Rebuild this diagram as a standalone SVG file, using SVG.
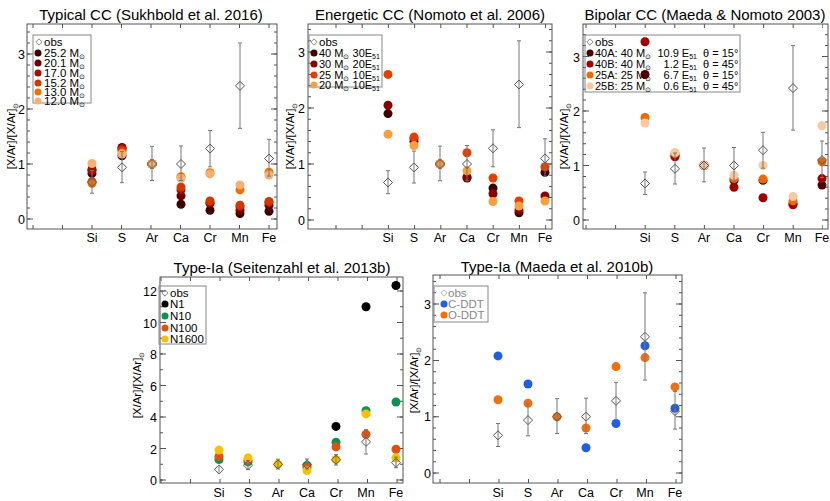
<svg xmlns="http://www.w3.org/2000/svg" width="830" height="501" viewBox="0 0 830 501">
<style>
text{font-family:"Liberation Sans",Arial,sans-serif;fill:#000}
.t{font-size:15px;text-anchor:middle}
.a{font-size:12.5px;text-anchor:end}
.x{font-size:12.5px;text-anchor:middle}
.l{font-size:11.5px}
.l3{font-size:11px}
.yl{font-size:11.5px;text-anchor:middle}
.s{font-size:7px}
.fr{fill:none;stroke:#555;stroke-width:1}
.tk{stroke:#555;fill:none}
.eb{stroke:#777;stroke-width:1;fill:none}
.ob{fill:#fff;fill-opacity:0;stroke:#555;stroke-width:1}
.lg{fill:none;stroke:#888}
</style>
<defs>
<path id="dm" d="M0,-4.5L4.5,0L0,4.5L-4.5,0Z"/>
</defs>

<!-- Panel 1 -->
<g id="p1">
<text class="t" x="151" y="20">Typical CC (Sukhbold et al. 2016)</text>
<rect class="fr" x="27" y="24" width="250" height="205"/>
<g class="tk">
<line x1="28.5" y1="219.5" x2="28.5" y2="24" stroke-width="3" stroke-dasharray="1 10"/>
<line x1="30" y1="219.5" x2="30" y2="24" stroke-width="6" stroke-dasharray="1 54"/>
<line x1="275.5" y1="219.5" x2="275.5" y2="24" stroke-width="3" stroke-dasharray="1 10"/>
<line x1="274" y1="219.5" x2="274" y2="24" stroke-width="6" stroke-dasharray="1 54"/>
<line x1="32.5" y1="227" x2="272" y2="227" stroke-width="4" stroke-dasharray="1 28.5"/>
<line x1="32.5" y1="26" x2="272" y2="26" stroke-width="4" stroke-dasharray="1 28.5"/>
</g>
<text class="a" x="25" y="224">0</text><text class="a" x="25" y="169">1</text><text class="a" x="25" y="114">2</text><text class="a" x="25" y="59">3</text>
<text class="yl" transform="translate(15,136) rotate(-90)">[X/Ar]/[X/Ar]<tspan class="s" dy="3">⊙</tspan></text>
<g class="x"><text x="92" y="242">Si</text><text x="122" y="242">S</text><text x="152" y="242">Ar</text><text x="181" y="242">Ca</text><text x="210" y="242">Cr</text><text x="240" y="242">Mn</text><text x="269" y="242">Fe</text></g>
<rect class="lg" x="33" y="35" width="58" height="68"/>
<use href="#dm" class="ob" transform="translate(39,42) scale(0.7)"/>
<text class="l" x="44" y="46">obs</text>
<circle cx="38" cy="53" r="3.5" fill="#3d0000"/><text class="l" x="44" y="57">25.2 M<tspan class="s" dy="2">⊙</tspan></text>
<circle cx="38" cy="63" r="3.5" fill="#6b0000"/><text class="l" x="44" y="67">20.1 M<tspan class="s" dy="2">⊙</tspan></text>
<circle cx="38" cy="73" r="3.5" fill="#a01000"/><text class="l" x="44" y="77">17.0 M<tspan class="s" dy="2">⊙</tspan></text>
<circle cx="38" cy="83" r="3.5" fill="#d03800"/><text class="l" x="44" y="87">15.2 M<tspan class="s" dy="2">⊙</tspan></text>
<circle cx="38" cy="92" r="3.5" fill="#f07000"/><text class="l" x="44" y="96">13.0 M<tspan class="s" dy="2">⊙</tspan></text>
<circle cx="38" cy="101" r="3.5" fill="#f8b070"/><text class="l" x="44" y="105">12.0 M<tspan class="s" dy="2">⊙</tspan></text>
<g fill="#3d0000"><circle cx="92" cy="173.4" r="4.5"/><circle cx="122" cy="155.8" r="4.5"/><circle cx="152" cy="164" r="4.5"/><circle cx="181" cy="204.2" r="4.5"/><circle cx="210" cy="210.2" r="4.5"/><circle cx="240" cy="213.5" r="4.5"/><circle cx="269" cy="211.3" r="4.5"/></g>
<g fill="#6b0000"><circle cx="92" cy="169.5" r="4.5"/><circle cx="122" cy="147.5" r="4.5"/><circle cx="152" cy="164" r="4.5"/><circle cx="181" cy="195.9" r="4.5"/><circle cx="210" cy="203.6" r="4.5"/><circle cx="240" cy="210.2" r="4.5"/><circle cx="269" cy="205.3" r="4.5"/></g>
<g fill="#a01000"><circle cx="92" cy="170.6" r="4.5"/><circle cx="122" cy="148.6" r="4.5"/><circle cx="152" cy="164" r="4.5"/><circle cx="181" cy="189.9" r="4.5"/><circle cx="210" cy="202.5" r="4.5"/><circle cx="240" cy="206.9" r="4.5"/><circle cx="269" cy="202.5" r="4.5"/></g>
<g fill="#d03800"><circle cx="92" cy="181.6" r="4.5"/><circle cx="122" cy="150.3" r="4.5"/><circle cx="152" cy="164" r="4.5"/><circle cx="181" cy="187.1" r="4.5"/><circle cx="210" cy="200.9" r="4.5"/><circle cx="240" cy="205.3" r="4.5"/><circle cx="269" cy="201.4" r="4.5"/></g>
<g fill="#f07000"><circle cx="92" cy="183.3" r="4.5"/><circle cx="122" cy="153" r="4.5"/><circle cx="152" cy="164" r="4.5"/><circle cx="181" cy="176.7" r="4.5"/><circle cx="210" cy="172.8" r="4.5"/><circle cx="240" cy="189.9" r="4.5"/><circle cx="269" cy="172.3" r="4.5"/></g>
<g fill="#f8b070"><circle cx="92" cy="163.5" r="4.5"/><circle cx="122" cy="154.1" r="4.5"/><circle cx="152" cy="164" r="4.5"/><circle cx="181" cy="178.3" r="4.5"/><circle cx="210" cy="173.9" r="4.5"/><circle cx="240" cy="184.9" r="4.5"/><circle cx="269" cy="175" r="4.5"/></g>
<path class="eb" d="M92 193.2V170.6M90 193.2h4M90 170.6h4M122 182.7V151.4M120 182.7h4M120 151.4h4M152 180.5V146.4M150 180.5h4M150 146.4h4M181 180.5V145.9M179 180.5h4M179 145.9h4M210 166.8V130.5M208 166.8h4M208 130.5h4M240 128.3V43M238 128.3h4M238 43h4M269 176.1V139.3M267 176.1h4M267 139.3h4"/>
<g class="ob"><use href="#dm" x="92" y="182.2"/><use href="#dm" x="122" y="167.3"/><use href="#dm" x="152" y="164"/><use href="#dm" x="181" y="164"/><use href="#dm" x="210" y="148.6"/><use href="#dm" x="240" y="85.9"/><use href="#dm" x="269" y="158.5"/></g>
</g>

<!-- Panel 2 -->
<g id="p2">
<text class="t" x="430" y="20">Energetic CC (Nomoto et al. 2006)</text>
<rect class="fr" x="308" y="24" width="244" height="205"/>
<g class="tk">
<line x1="309.5" y1="220.5" x2="309.5" y2="24" stroke-width="3" stroke-dasharray="1 10.2"/>
<line x1="311" y1="220.5" x2="311" y2="24" stroke-width="6" stroke-dasharray="1 55"/>
<line x1="550.5" y1="220.5" x2="550.5" y2="24" stroke-width="3" stroke-dasharray="1 10.2"/>
<line x1="549" y1="220.5" x2="549" y2="24" stroke-width="6" stroke-dasharray="1 55"/>
<line x1="335.5" y1="227" x2="547" y2="227" stroke-width="4" stroke-dasharray="1 25.2"/>
<line x1="335.5" y1="26" x2="547" y2="26" stroke-width="4" stroke-dasharray="1 25.2"/>
</g>
<text class="a" x="305" y="225">0</text><text class="a" x="305" y="169">1</text><text class="a" x="305" y="113">2</text><text class="a" x="305" y="57">3</text>
<text class="yl" transform="translate(294,136) rotate(-90)">[X/Ar]/[X/Ar]<tspan class="s" dy="3">⊙</tspan></text>
<g class="x"><text x="388" y="242">Si</text><text x="414" y="242">S</text><text x="440" y="242">Ar</text><text x="467" y="242">Ca</text><text x="493" y="242">Cr</text><text x="519" y="242">Mn</text><text x="545" y="242">Fe</text></g>
<rect class="lg" x="309" y="35" width="73" height="52"/>
<use href="#dm" class="ob" transform="translate(314,42) scale(0.7)"/>
<text class="l" x="319" y="46">obs</text>
<circle cx="314" cy="53" r="3.5" fill="#3d0000"/><text class="l3" x="319" y="57">40 M<tspan class="s" dy="2">⊙</tspan><tspan dy="-2"> 30E</tspan><tspan class="s" dy="2">51</tspan></text>
<circle cx="314" cy="64" r="3.5" fill="#8b0000"/><text class="l3" x="319" y="68">30 M<tspan class="s" dy="2">⊙</tspan><tspan dy="-2"> 20E</tspan><tspan class="s" dy="2">51</tspan></text>
<circle cx="314" cy="75" r="3.5" fill="#e04000"/><text class="l3" x="319" y="79">25 M<tspan class="s" dy="2">⊙</tspan><tspan dy="-2"> 10E</tspan><tspan class="s" dy="2">51</tspan></text>
<circle cx="314" cy="85" r="3.5" fill="#f8a040"/><text class="l3" x="319" y="89">20 M<tspan class="s" dy="2">⊙</tspan><tspan dy="-2"> 10E</tspan><tspan class="s" dy="2">51</tspan></text>
<g fill="#3d0000"><circle cx="388" cy="113.6" r="4.5"/><circle cx="414" cy="141.6" r="4.5"/><circle cx="440" cy="164" r="4.5"/><circle cx="467" cy="178" r="4.5"/><circle cx="493" cy="188.1" r="4.5"/><circle cx="519" cy="212.7" r="4.5"/><circle cx="545" cy="172.4" r="4.5"/></g>
<g fill="#8b0000"><circle cx="388" cy="105.2" r="4.5"/><circle cx="414" cy="138.8" r="4.5"/><circle cx="440" cy="164" r="4.5"/><circle cx="467" cy="176.9" r="4.5"/><circle cx="493" cy="193.7" r="4.5"/><circle cx="519" cy="209.9" r="4.5"/><circle cx="545" cy="195.9" r="4.5"/></g>
<g fill="#e04000"><circle cx="388" cy="74.4" r="4.5"/><circle cx="414" cy="137.1" r="4.5"/><circle cx="440" cy="164" r="4.5"/><circle cx="467" cy="152.8" r="4.5"/><circle cx="493" cy="178" r="4.5"/><circle cx="519" cy="201" r="4.5"/><circle cx="545" cy="166.8" r="4.5"/></g>
<g fill="#f8a040"><circle cx="388" cy="134.3" r="4.5"/><circle cx="414" cy="145.5" r="4.5"/><circle cx="440" cy="164" r="4.5"/><circle cx="467" cy="170.7" r="4.5"/><circle cx="493" cy="201.5" r="4.5"/><circle cx="519" cy="206" r="4.5"/><circle cx="545" cy="201" r="4.5"/></g>
<path class="eb" d="M388 193.7V170.7M386 193.7h4M386 170.7h4M414 183V151.1M412 183h4M412 151.1h4M440 180.8V146.1M438 180.8h4M438 146.1h4M467 180.8V145.5M465 180.8h4M465 145.5h4M493 166.8V129.8M491 166.8h4M491 129.8h4M519 127.6V40.8M517 127.6h4M517 40.8h4M545 176.3V138.8M543 176.3h4M543 138.8h4"/>
<g class="ob"><use href="#dm" x="388" y="182.5"/><use href="#dm" x="414" y="167.4"/><use href="#dm" x="440" y="164"/><use href="#dm" x="467" y="164"/><use href="#dm" x="493" y="148.3"/><use href="#dm" x="519" y="84.5"/><use href="#dm" x="545" y="158.4"/></g>
</g>

<!-- Panel 3 -->
<g id="p3">
<text class="t" x="705" y="20">Bipolar CC (Maeda &amp; Nomoto 2003)</text>
<rect class="fr" x="583" y="24" width="245" height="205"/>
<g class="tk">
<line x1="584.5" y1="220.5" x2="584.5" y2="24" stroke-width="3" stroke-dasharray="1 9.9"/>
<line x1="586" y1="220.5" x2="586" y2="24" stroke-width="6" stroke-dasharray="1 53.5"/>
<line x1="826.5" y1="220.5" x2="826.5" y2="24" stroke-width="3" stroke-dasharray="1 9.9"/>
<line x1="825" y1="220.5" x2="825" y2="24" stroke-width="6" stroke-dasharray="1 53.5"/>
<line x1="585.5" y1="227" x2="823" y2="227" stroke-width="4" stroke-dasharray="1 28.6"/>
<line x1="585.5" y1="26" x2="823" y2="26" stroke-width="4" stroke-dasharray="1 28.6"/>
</g>
<text class="a" x="580" y="225">0</text><text class="a" x="580" y="171">1</text><text class="a" x="580" y="116">2</text><text class="a" x="580" y="62">3</text>
<text class="yl" transform="translate(568,136) rotate(-90)">[X/Ar]/[X/Ar]<tspan class="s" dy="3">⊙</tspan></text>
<g class="x"><text x="645" y="242">Si</text><text x="675" y="242">S</text><text x="704" y="242">Ar</text><text x="734" y="242">Ca</text><text x="763" y="242">Cr</text><text x="793" y="242">Mn</text><text x="822" y="242">Fe</text></g>
<rect class="lg" x="585" y="35" width="155" height="57"/>
<use href="#dm" class="ob" transform="translate(590,42) scale(0.7)"/>
<text class="l" x="595" y="46">obs</text>
<circle cx="590" cy="53" r="3.5" fill="#4a0000"/><text class="l3" x="595" y="57">40A: 40 M<tspan class="s" dy="2">⊙</tspan></text><text class="l3" x="697" y="57" text-anchor="end">10.9 E<tspan class="s" dy="2">51</tspan></text><text class="l3" x="703" y="57">θ = 15°</text>
<circle cx="590" cy="64" r="3.5" fill="#a00000"/><text class="l3" x="595" y="68">40B: 40 M<tspan class="s" dy="2">⊙</tspan></text><text class="l3" x="697" y="68" text-anchor="end">1.2 E<tspan class="s" dy="2">51</tspan></text><text class="l3" x="703" y="68">θ = 45°</text>
<circle cx="590" cy="75" r="3.5" fill="#f06800"/><text class="l3" x="595" y="79">25A: 25 M<tspan class="s" dy="2">⊙</tspan></text><text class="l3" x="697" y="79" text-anchor="end">6.7 E<tspan class="s" dy="2">51</tspan></text><text class="l3" x="703" y="79">θ = 15°</text>
<circle cx="590" cy="86" r="3.5" fill="#f8c8a0"/><text class="l3" x="595" y="90">25B: 25 M<tspan class="s" dy="2">⊙</tspan></text><text class="l3" x="697" y="90" text-anchor="end">0.6 E<tspan class="s" dy="2">51</tspan></text><text class="l3" x="703" y="90">θ = 45°</text>
<g fill="#4a0000"><circle cx="645" cy="74.5" r="4.5"/><circle cx="675" cy="155.7" r="4.5"/><circle cx="704" cy="165.5" r="4.5"/><circle cx="734" cy="180.2" r="4.5"/><circle cx="763" cy="180.2" r="4.5"/><circle cx="793" cy="203.7" r="4.5"/><circle cx="822" cy="185.1" r="4.5"/></g>
<g fill="#a00000"><circle cx="645" cy="41.8" r="4.5"/><circle cx="675" cy="156.8" r="4.5"/><circle cx="704" cy="165.5" r="4.5"/><circle cx="734" cy="187.3" r="4.5"/><circle cx="763" cy="197.7" r="4.5"/><circle cx="793" cy="204.7" r="4.5"/><circle cx="822" cy="178.6" r="4.5"/></g>
<g fill="#f06800"><circle cx="645" cy="117.5" r="4.5"/><circle cx="675" cy="153.5" r="4.5"/><circle cx="704" cy="165.5" r="4.5"/><circle cx="734" cy="178.6" r="4.5"/><circle cx="763" cy="179.1" r="4.5"/><circle cx="793" cy="200.9" r="4.5"/><circle cx="822" cy="161.7" r="4.5"/></g>
<g fill="#f8c8a0"><circle cx="645" cy="123" r="4.5"/><circle cx="675" cy="152.4" r="4.5"/><circle cx="704" cy="165.5" r="4.5"/><circle cx="734" cy="175.3" r="4.5"/><circle cx="763" cy="165.5" r="4.5"/><circle cx="793" cy="196.6" r="4.5"/><circle cx="822" cy="125.7" r="4.5"/></g>
<path class="eb" d="M645 194.4V172M643 194.4h4M643 172h4M675 184V153M673 184h4M673 153h4M704 181.9V148.1M702 181.9h4M702 148.1h4M734 181.9V147.5M732 181.9h4M732 147.5h4M763 168.2V132.3M761 168.2h4M761 132.3h4M793 130.1V45.6M791 130.1h4M791 45.6h4M822 177.5V141M820 177.5h4M820 141h4"/>
<g class="ob"><use href="#dm" x="645" y="183.5"/><use href="#dm" x="675" y="168.8"/><use href="#dm" x="704" y="165.5"/><use href="#dm" x="734" y="165.5"/><use href="#dm" x="763" y="150.2"/><use href="#dm" x="793" y="88.1"/><use href="#dm" x="822" y="160"/></g>
</g>

<!-- Panel 4 -->
<g id="p4">
<text class="t" x="282" y="273">Type-Ia (Seitenzahl et al. 2013b)</text>
<rect class="fr" x="160" y="277" width="243" height="206"/>
<g class="tk">
<line x1="161.5" y1="480.5" x2="161.5" y2="277" stroke-width="3" stroke-dasharray="1 14.75"/>
<line x1="163" y1="480.5" x2="163" y2="277" stroke-width="6" stroke-dasharray="1 30.5"/>
<line x1="401.5" y1="480.5" x2="401.5" y2="277" stroke-width="3" stroke-dasharray="1 14.75"/>
<line x1="400" y1="480.5" x2="400" y2="277" stroke-width="6" stroke-dasharray="1 30.5"/>
<line x1="160.5" y1="481" x2="398" y2="481" stroke-width="4" stroke-dasharray="1 28.5"/>
<line x1="160.5" y1="279" x2="398" y2="279" stroke-width="4" stroke-dasharray="1 28.5"/>
</g>
<text class="a" x="157" y="485">0</text><text class="a" x="157" y="454">2</text><text class="a" x="157" y="422">4</text><text class="a" x="157" y="391">6</text><text class="a" x="157" y="359">8</text><text class="a" x="157" y="328">10</text><text class="a" x="157" y="296">12</text>
<text class="yl" transform="translate(141,385) rotate(-90)">[X/Ar]/[X/Ar]<tspan class="s" dy="3">⊙</tspan></text>
<g class="x"><text x="219" y="497">Si</text><text x="248" y="497">S</text><text x="278" y="497">Ar</text><text x="307" y="497">Ca</text><text x="336" y="497">Cr</text><text x="366" y="497">Mn</text><text x="396" y="497">Fe</text></g>
<rect class="lg" x="159" y="286" width="47" height="58"/>
<use href="#dm" class="ob" transform="translate(165,293) scale(0.7)"/>
<text class="l" x="170" y="297">obs</text>
<circle cx="165" cy="304" r="3.5" fill="#000"/><text class="l" x="170" y="308">N1</text>
<circle cx="165" cy="316" r="3.5" fill="#109050"/><text class="l" x="170" y="320">N10</text>
<circle cx="165" cy="328" r="3.5" fill="#e05010"/><text class="l" x="170" y="332">N100</text>
<circle cx="165" cy="339" r="3.5" fill="#f8c000"/><text class="l" x="170" y="343">N1600</text>
<g fill="#000"><circle cx="336" cy="426.4" r="4.5"/><circle cx="366" cy="306.8" r="4.5"/><circle cx="396" cy="285.5" r="4.5"/></g>
<g fill="#109050"><circle cx="219" cy="459.5" r="4.5"/><circle cx="248" cy="461.9" r="4.5"/><circle cx="307" cy="465.8" r="4.5"/><circle cx="336" cy="442.2" r="4.5"/><circle cx="366" cy="410.7" r="4.5"/><circle cx="396" cy="402" r="4.5"/></g>
<g fill="#e05010"><circle cx="219" cy="456.4" r="4.5"/><circle cx="248" cy="460.3" r="4.5"/><circle cx="307" cy="467.4" r="4.5"/><circle cx="336" cy="446.9" r="4.5"/><circle cx="366" cy="434.3" r="4.5"/><circle cx="396" cy="449.3" r="4.5"/></g>
<g fill="#f8c000"><circle cx="219" cy="450.1" r="4.5"/><circle cx="248" cy="458" r="4.5"/><circle cx="278" cy="464.3" r="4.5"/><circle cx="307" cy="470.6" r="4.5"/><circle cx="336" cy="459.5" r="4.5"/><circle cx="366" cy="413.9" r="4.5"/><circle cx="396" cy="458" r="4.5"/></g>
<path class="eb" d="M219 472.6V466.1M248 469.6V460.6M246 469.6h4M246 460.6h4M278 469V459.2M276 469h4M276 459.2h4M307 469V459M305 469h4M305 459h4M336 465V454.6M334 465h4M334 454.6h4M366 454V429.6M364 454h4M364 429.6h4M396 467.7V457.2M394 467.7h4M394 457.2h4"/>
<g class="ob"><use href="#dm" x="219" y="469.4"/><use href="#dm" x="248" y="465.2"/><use href="#dm" x="278" y="464.3"/><use href="#dm" x="307" y="464.3"/><use href="#dm" x="336" y="459.8"/><use href="#dm" x="366" y="441.9"/><use href="#dm" x="396" y="462.7"/></g>
</g>

<!-- Panel 5 -->
<g id="p5">
<text class="t" x="557" y="272">Type-Ia (Maeda et al. 2010b)</text>
<rect class="fr" x="433" y="275" width="249" height="208"/>
<g class="tk">
<line x1="434.5" y1="473.5" x2="434.5" y2="275" stroke-width="3" stroke-dasharray="1 10.26"/>
<line x1="436" y1="473.5" x2="436" y2="275" stroke-width="6" stroke-dasharray="1 55.3"/>
<line x1="680.5" y1="473.5" x2="680.5" y2="275" stroke-width="3" stroke-dasharray="1 10.26"/>
<line x1="679" y1="473.5" x2="679" y2="275" stroke-width="6" stroke-dasharray="1 55.3"/>
<line x1="439.5" y1="481" x2="677" y2="481" stroke-width="4" stroke-dasharray="1 28.5"/>
<line x1="439.5" y1="277" x2="677" y2="277" stroke-width="4" stroke-dasharray="1 28.5"/>
</g>
<text class="a" x="431" y="478">0</text><text class="a" x="431" y="421">1</text><text class="a" x="431" y="365">2</text><text class="a" x="431" y="309">3</text>
<text class="yl" transform="translate(418,380) rotate(-90)">[X/Ar]/[X/Ar]<tspan class="s" dy="3">⊙</tspan></text>
<g class="x"><text x="498" y="497">Si</text><text x="528" y="497">S</text><text x="557" y="497">Ar</text><text x="586" y="497">Ca</text><text x="616" y="497">Cr</text><text x="645" y="497">Mn</text><text x="675" y="497">Fe</text></g>
<rect class="lg" x="434" y="286" width="54" height="36"/>
<use href="#dm" class="ob" transform="translate(444,293) scale(0.7)" style="stroke:#999"/>
<text class="l" x="448" y="297" style="fill:#888">obs</text>
<circle cx="444" cy="304" r="3.5" fill="#2060e0"/><text class="l" x="448" y="308" style="fill:#888">C-DDT</text>
<circle cx="444" cy="315" r="3.5" fill="#f07010"/><text class="l" x="448" y="319" style="fill:#888">O-DDT</text>
<g fill="#2060e0"><circle cx="498" cy="355.9" r="4.5"/><circle cx="528" cy="384" r="4.5"/><circle cx="586" cy="447.7" r="4.5"/><circle cx="616" cy="423.5" r="4.5"/><circle cx="645" cy="345.8" r="4.5"/><circle cx="675" cy="408.3" r="4.5"/></g>
<g fill="#f07010"><circle cx="498" cy="399.8" r="4.5"/><circle cx="528" cy="403.2" r="4.5"/><circle cx="557" cy="416.7" r="4.5"/><circle cx="586" cy="428" r="4.5"/><circle cx="616" cy="366.6" r="4.5"/><circle cx="645" cy="357.6" r="4.5"/><circle cx="675" cy="386.9" r="4.5"/></g>
<path class="eb" d="M498 446.5V423.5M496 446.5h4M496 423.5h4M528 435.8V403.8M526 435.8h4M526 403.8h4M557 433.6V398.7M555 433.6h4M555 398.7h4M586 433.6V398.1M584 433.6h4M584 398.1h4M616 419.5V382.4M614 419.5h4M614 382.4h4M645 380.1V292.8M643 380.1h4M643 292.8h4M675 429.1V391.4M673 429.1h4M673 391.4h4"/>
<g class="ob"><use href="#dm" x="498" y="435.3"/><use href="#dm" x="528" y="420.1"/><use href="#dm" x="557" y="416.7"/><use href="#dm" x="586" y="416.7"/><use href="#dm" x="616" y="400.9"/><use href="#dm" x="645" y="336.8"/><use href="#dm" x="675" y="411.1"/></g>
</g>
</svg>
